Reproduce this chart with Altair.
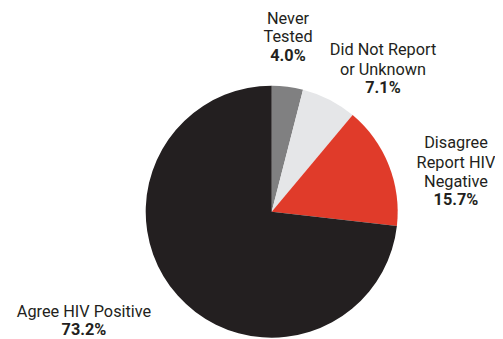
import altair as alt
import pandas as pd

categories = ["Never Tested", "Did Not Report or Unknown", "Disagree Report HIV Negative", "Agree HIV Positive"]
values = [4.0, 7.1, 15.7, 73.2]
colors = ["#808081", "#e5e6e8", "#e03b2a", "#231f20"]

# label layout (name lines and bold percent line), pixel positions in chart space
label_lines = [["Never", "Tested"], ["Did Not Report", "or Unknown"], ["Disagree", "Report HIV", "Negative"], ["Agree HIV Positive"]]
label_x = [280, 375, 448, 76]
label_name_y = [[11, 29], [42, 62], [135, 155, 174], [304]]
label_pct_y = [48, 80, 192, 322]

pie_df = pd.DataFrame({"category": categories, "value": values, "idx": list(range(len(values)))})

name_rows = []
for i, lines in enumerate(label_lines):
    for line, yy in zip(lines, label_name_y[i]):
        name_rows.append({"t": line, "x": label_x[i], "y": yy})
name_df = pd.DataFrame(name_rows)
pct_df = pd.DataFrame({"t": [f"{v:.1f}%" for v in values], "x": label_x, "y": label_pct_y})

pie = alt.Chart(pie_df).mark_arc(radius=126, stroke=None).encode(
    theta=alt.Theta("value:Q", stack=True),
    color=alt.Color("category:N", scale=alt.Scale(domain=categories, range=colors), legend=None),
    order=alt.Order("idx:Q"),
    x=alt.value(263.7),
    y=alt.value(203.7),
)

font = "Roboto"
names = alt.Chart(name_df).mark_text(font=font, fontSize=16.3, color="#231f20", align="center", baseline="middle").encode(
    x=alt.X("x:Q", scale=None),
    y=alt.Y("y:Q", scale=None),
    text="t:N",
)
pcts = alt.Chart(pct_df).mark_text(font=font, fontSize=16.3, fontWeight="bold", color="#231f20", align="center", baseline="middle").encode(
    x=alt.X("x:Q", scale=None),
    y=alt.Y("y:Q", scale=None),
    text="t:N",
)

chart = alt.layer(pie, names, pcts).properties(
    width=487, height=331, padding=0,
    autosize=alt.AutoSizeParams(type="none"),
).configure_view(stroke=None)

chart.save("out.html", embed_options={"renderer": "svg", "actions": False})
